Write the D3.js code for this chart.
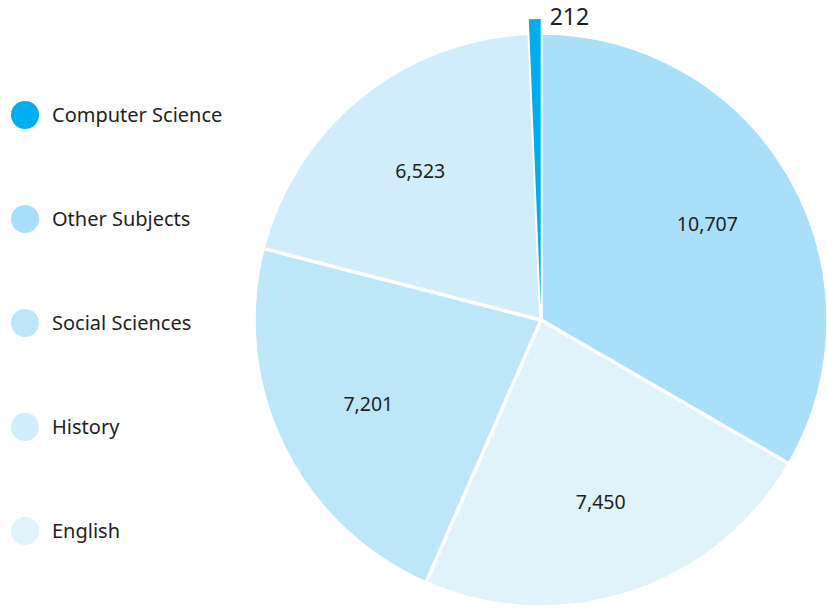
<!DOCTYPE html>
<html lang="en">
  <head>
    <meta charset="utf-8" />
    <title>Subjects pie</title>
    <script src="https://cdnjs.cloudflare.com/ajax/libs/d3/7.8.5/d3.min.js"></script>
    <style>
      body { margin: 0; background: #fff; }
      text { font-family: "Noto Sans", "Open Sans", sans-serif; fill: #231f20; }
    </style>
  </head>
  <body>
    <script>
      // data, in drawing order (clockwise from 12 o'clock)
      const subjects = ["Other Subjects", "English", "Social Sciences", "History", "Computer Science"];
      const counts = [10707, 7450, 7201, 6523, 212];
      const colors = ["#a9dff9", "#e0f3fb", "#bde6f9", "#d1ecfa", "#00aeef"];
      // legend order, top to bottom
      const legendOrder = ["Computer Science", "Other Subjects", "Social Sciences", "History", "English"];

      const width = 827;
      const height = 608;
      const cx = 541, cy = 320, radius = 287;
      const explode = 14;

      const color = d3.scaleOrdinal().domain(subjects).range(colors);
      const fmt = d3.format(",");

      const svg = d3.select("body").append("svg")
        .attr("width", width)
        .attr("height", height)
        .attr("viewBox", [0, 0, width, height]);

      const data = subjects.map((s, i) => ({ subject: s, value: counts[i] }));

      const pie = d3.pie().sort(null).value(d => d.value);
      const arcs = pie(data);
      const arc = d3.arc().innerRadius(0).outerRadius(radius);
      const labelArc = d3.arc().innerRadius(192).outerRadius(192);

      const isSmall = d => d.data.subject === "Computer Science";

      // the small slice is pulled out a little
      const offset = d => {
        if (!isSmall(d)) return [0, 0];
        const a = (d.startAngle + d.endAngle) / 2;
        return [Math.sin(a) * explode, -Math.cos(a) * explode];
      };

      const g = svg.append("g").attr("transform", `translate(${cx},${cy})`);

      g.selectAll("path")
        .data(arcs)
        .join("path")
        .attr("transform", d => `translate(${offset(d)})`)
        .attr("d", arc)
        .attr("fill", d => color(d.data.subject))
        .attr("stroke", "#fff")
        .attr("stroke-width", d => isSmall(d) ? 0 : 3.5)
        .attr("stroke-linejoin", "round");

      // labels inside
      g.selectAll("text.inside")
        .data(arcs.filter(d => !isSmall(d)))
        .join("text")
        .attr("class", "inside")
        .attr("transform", d => `translate(${labelArc.centroid(d)})`)
        .attr("text-anchor", "middle")
        .attr("dy", "0.35em")
        .attr("font-size", 19.5)
        .text(d => fmt(d.data.value));

      // label of the small slice, outside at the top
      const cs = arcs.find(isSmall);
      const [ox, oy] = offset(cs);
      g.append("text")
        .attr("x", ox + 9)
        .attr("y", oy - radius + 6)
        .attr("font-size", 23)
        .attr("text-anchor", "start")
        .text(fmt(cs.data.value));

      // legend
      const legend = svg.append("g")
        .selectAll("g")
        .data(legendOrder)
        .join("g")
        .attr("transform", (d, i) => `translate(25,${115 + i * 104})`);

      legend.append("circle")
        .attr("r", 14)
        .attr("fill", d => color(d));

      legend.append("text")
        .attr("x", 27)
        .attr("dy", "0.35em")
        .attr("font-size", 20)
        .text(d => d);
    </script>
  </body>
</html>
